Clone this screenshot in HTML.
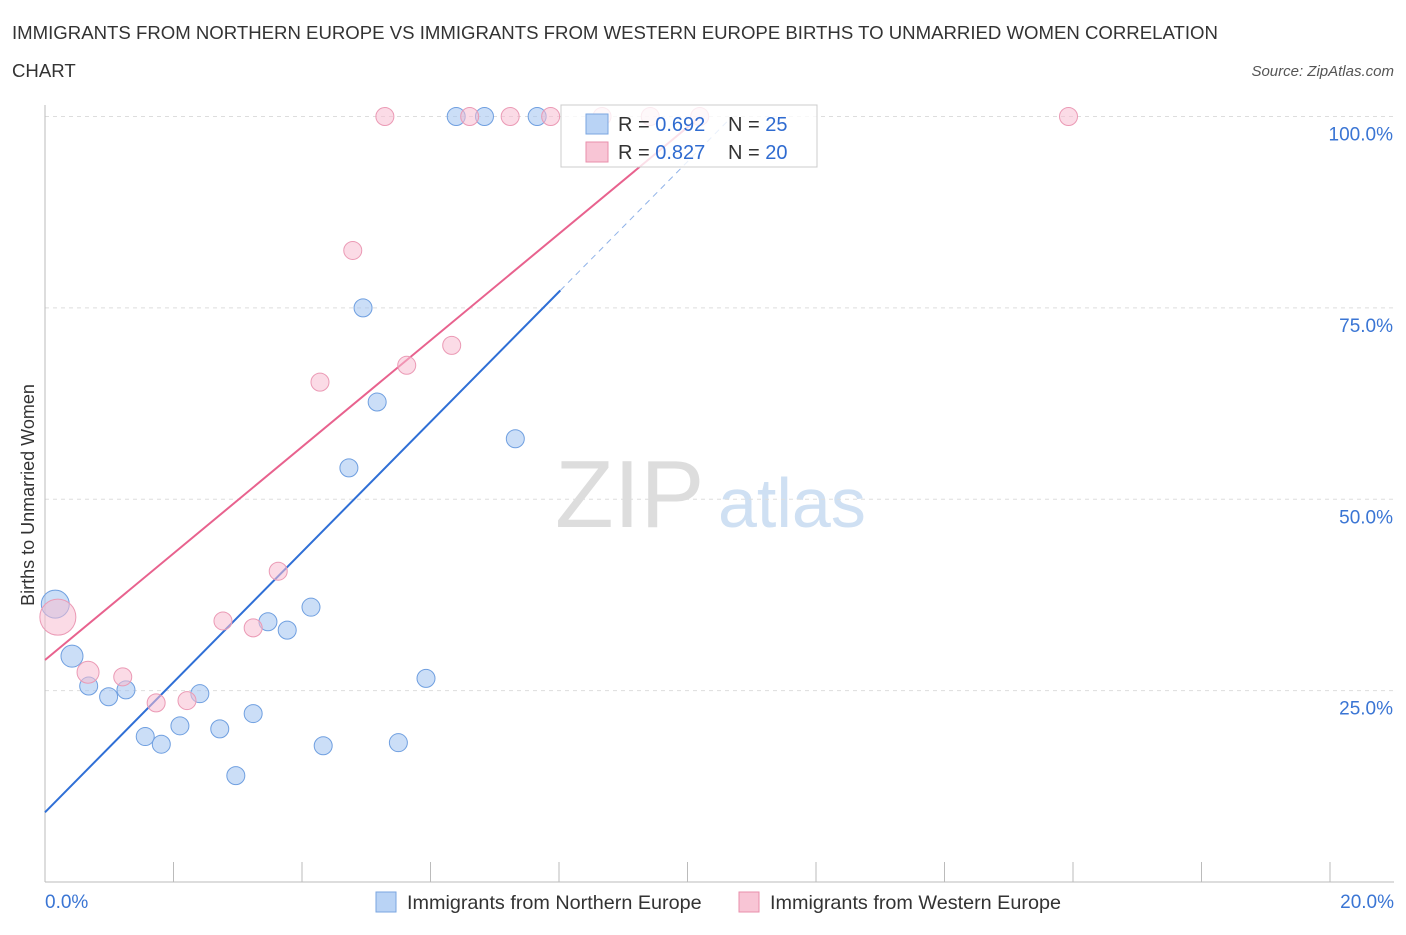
<!DOCTYPE html>
<html><head><meta charset="utf-8"><style>
body{margin:0;background:#fff;font-family:"Liberation Sans",sans-serif;}
svg text{font-family:"Liberation Sans",sans-serif;}
</style></head><body>
<svg id="chart" width="1406" height="930" xmlns="http://www.w3.org/2000/svg">
<text x="12" y="39" font-size="18.6" fill="#333">IMMIGRANTS FROM NORTHERN EUROPE VS IMMIGRANTS FROM WESTERN EUROPE BIRTHS TO UNMARRIED WOMEN CORRELATION</text>
<text x="12" y="77" font-size="18.6" fill="#333">CHART</text>
<text x="1394" y="76" font-size="15" fill="#555" font-style="italic" text-anchor="end">Source: ZipAtlas.com</text>
<text x="34" y="495" font-size="18" fill="#333" text-anchor="middle" transform="rotate(-90 34 495)">Births to Unmarried Women</text>
<text x="555" y="527" font-size="96" fill="#ddd" font-family="Liberation Serif">ZIP</text>
<text x="718" y="527" font-size="70" fill="#cfe0f3">atlas</text>
<g id="grid"></g><g id="axes"></g><g id="lines"></g><g id="pts"></g>
<g>
<rect x="561" y="105" width="256" height="62" fill="#fff" fill-opacity="0.8" stroke="#ccc"/>
<rect x="586" y="114" width="22" height="20" fill="#b9d3f5" stroke="#7aa6e0"/>
<rect x="586" y="142" width="22" height="20" fill="#f8c5d5" stroke="#e98fab"/>
<text x="618" y="131" font-size="20" fill="#333">R = <tspan fill="#2f6bd0">0.692</tspan></text>
<text x="728" y="131" font-size="20" fill="#333">N = <tspan fill="#2f6bd0"> 25</tspan></text>
<text x="618" y="159" font-size="20" fill="#333">R = <tspan fill="#2f6bd0">0.827</tspan></text>
<text x="728" y="159" font-size="20" fill="#333">N = <tspan fill="#2f6bd0">20</tspan></text>
</g>
<g>
<rect x="376" y="892" width="20" height="20" fill="#b9d3f5" stroke="#7aa6e0"/>
<text x="407" y="909" font-size="19.8" fill="#333">Immigrants from Northern Europe</text>
<rect x="739" y="892" width="20" height="20" fill="#f8c5d5" stroke="#e98fab"/>
<text x="770" y="909" font-size="19.8" fill="#333">Immigrants from Western Europe</text>
</g>
</svg>
<script>
const blueX=[0.16,0.42,0.68,0.99,1.26,1.56,1.81,2.10,2.41,2.72,2.97,3.24,3.47,3.77,4.14,4.33,4.73,4.95,5.17,5.50,5.93,6.40,6.84,7.32,7.66];
const blueY=[36.3,29.5,25.6,24.2,25.1,19.0,18.0,20.4,24.6,20.0,13.9,22.0,34.0,32.9,35.9,17.8,54.1,75.0,62.7,18.2,26.6,100,100,57.9,100];
const blueR=[14,11,9,9,9,9,9,9,9,9,9,9,9,9,9,9,9,9,9,9,9,9,9,9,9];
const pinkX=[0.20,0.67,1.21,1.73,2.21,2.77,3.24,3.63,4.28,4.79,5.29,5.63,6.33,6.61,7.24,7.87,8.67,9.42,10.19,15.93];
const pinkY=[34.6,27.4,26.8,23.4,23.7,34.1,33.2,40.6,65.3,82.5,100,67.5,70.1,100,100,100,100,100,100,100];
const pinkR=[18,11,9,9,9,9,9,9,9,9,9,9,9,9,9,9,9,9,9,9];
const yTicks=[25,50,75,100];
const xTickLabels=["0.0%","20.0%"];
const blueFit=[9.1,8.5], pinkFit=[29.0,6.96];
const sx=v=>45+v/20*1285, sy=v=>882-v*7.655;
const NS="http://www.w3.org/2000/svg";
function mk(p,t,a){const e=document.createElementNS(NS,t);for(const k in a)e.setAttribute(k,a[k]);p.appendChild(e);return e;}
const grid=document.getElementById('grid'),axes=document.getElementById('axes'),lines=document.getElementById('lines'),pts=document.getElementById('pts');
yTicks.forEach(v=>{
 const l=mk(grid,'line',{x1:45,x2:1394,y1:sy(v),y2:sy(v),stroke:'#ddd','stroke-dasharray':'4,4'});
 
 
 const t=mk(axes,'text',{x:1393,y:sy(v)+24,'font-size':19,fill:'#3a75d4','text-anchor':'end'});t.textContent=v.toFixed(1)+'%';
 
 
});
mk(axes,'line',{x1:45,x2:45,y1:105,y2:882,stroke:'#bbb'});
mk(axes,'line',{x1:45,x2:1394,y1:882,y2:882,stroke:'#bbb'});
for(let i=0;i<=10;i++){const x=sx(i*2);mk(axes,'line',{x1:x,x2:x,y1:862,y2:882,stroke:'#bbb'});}
[[0,'start',45],[1,'end',1394]].forEach(([i,a,x])=>{const t=mk(axes,'text',{x:x,y:908,'font-size':19,fill:'#3a75d4','text-anchor':a});t.textContent=xTickLabels[i];
 
 });
const bxEnd=8.02, bxTop=(100-blueFit[0])/blueFit[1];
let l1=mk(lines,'line',{x1:sx(0),y1:sy(blueFit[0]),x2:sx(bxEnd),y2:sy(blueFit[0]+blueFit[1]*bxEnd),stroke:'#2f6fd6','stroke-width':2});


let l2=mk(lines,'line',{x1:sx(bxEnd),y1:sy(blueFit[0]+blueFit[1]*bxEnd),x2:sx(bxTop),y2:sy(100),stroke:'#8fb2e8','stroke-width':1,'stroke-dasharray':'6,5'});


const pxTop=(100-pinkFit[0])/pinkFit[1];
let l3=mk(lines,'line',{x1:sx(0),y1:sy(pinkFit[0]),x2:sx(pxTop),y2:sy(100),stroke:'#e8628e','stroke-width':2});


blueX.forEach((x,i)=>{const c=mk(pts,'circle',{cx:sx(x),cy:sy(blueY[i]),r:blueR[i],fill:'rgba(160,195,240,0.55)',stroke:'#6f9fe0','stroke-width':1});
 
 });
pinkX.forEach((x,i)=>{const c=mk(pts,'circle',{cx:sx(x),cy:sy(pinkY[i]),r:pinkR[i],fill:'rgba(248,190,210,0.55)',stroke:'#eb9ab5','stroke-width':1});
 
 });
</script>
</body></html>
